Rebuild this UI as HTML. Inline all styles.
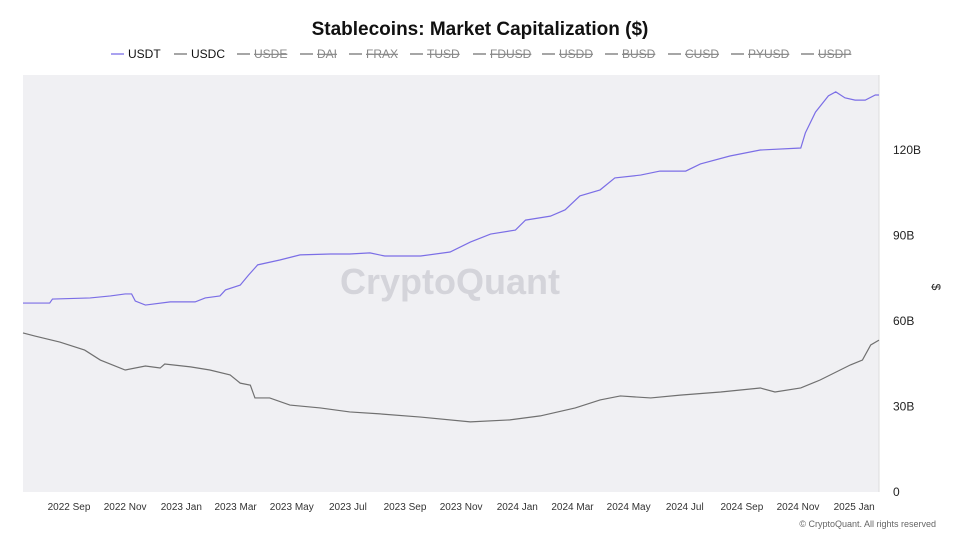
<!DOCTYPE html>
<html><head><meta charset="utf-8"><style>
body{margin:0;background:#fff;font-family:"Liberation Sans",sans-serif;}
svg{display:block}
</style></head><body>
<svg id="chart" width="960" height="540">
<text x="480" y="35" text-anchor="middle" font-size="19" font-weight="bold" fill="#111">Stablecoins: Market Capitalization ($)</text>
<g id="legend"></g>
<rect x="23" y="75" width="856" height="417" fill="#f0f0f3"/>
<line x1="879" y1="75" x2="879" y2="492" stroke="#ddd"/>
<text x="450" y="294" text-anchor="middle" font-size="36" font-weight="bold" fill="#d4d4da">CryptoQuant</text>
<g id="axes"></g>
<g id="series"></g>
<text x="936" y="283" font-size="12" fill="#222" text-anchor="middle" transform="rotate(90 932 283)">$</text>
<text x="936" y="527" text-anchor="end" font-size="9" fill="#666">© CryptoQuant. All rights reserved</text>
</svg>
<script>
const legendNames=["USDT","USDC","USDE","DAI","FRAX","TUSD","FDUSD","USDD","BUSD","CUSD","PYUSD","USDP"];
const yTicks=[0,30,60,90,120];
const yTickLabels=["0","30B","60B","90B","120B"];
const xTickDays=[50,111,172,231,292,353,415,476,537,597,658,719,781,842,903];
const xTickLabels=["2022 Sep","2022 Nov","2023 Jan","2023 Mar","2023 May","2023 Jul","2023 Sep","2023 Nov","2024 Jan","2024 Mar","2024 May","2024 Jul","2024 Sep","2024 Nov","2025 Jan"];
const usdtDays=[0,29,32,73,95,111,118,122,133,160,187,198,214,220,236,245,255,279,301,334,355,377,393,432,464,486,508,535,546,573,589,605,627,643,671,692,720,736,768,801,845,850,861,875,883,893,904,915,926,930];
const usdtVals=[66.3,66.3,67.7,68.1,68.8,69.5,69.5,67.0,65.6,66.7,66.7,68.1,68.8,70.9,72.6,76.1,79.7,81.4,83.2,83.5,83.5,83.9,82.8,82.8,84.2,87.7,90.5,91.9,95.4,96.8,99.0,103.9,106.0,110.2,111.2,112.6,112.6,115.1,117.9,120.0,120.7,126.0,133.3,139.0,140.4,138.3,137.5,137.5,139.3,139.3];
const usdcDays=[0,13,40,67,84,111,133,149,154,182,203,225,236,247,252,268,290,323,355,388,432,486,529,562,600,627,649,682,714,758,801,817,845,866,899,912,921,930];
const usdcVals=[55.8,54.7,52.6,49.8,46.3,42.8,44.2,43.5,44.9,43.9,42.8,41.1,38.2,37.5,33.0,33.0,30.5,29.5,28.1,27.4,26.3,24.6,25.3,26.7,29.5,32.3,33.7,33.0,34.0,35.1,36.5,35.1,36.5,39.3,44.6,46.3,51.6,53.3];
const NS="http://www.w3.org/2000/svg";
const X=d=>23+d*(856/930);
const Y=v=>492-v*(85.5/30);
function mk(tag,attrs,parent){const e=document.createElementNS(NS,tag);for(const k in attrs)e.setAttribute(k,attrs[k]);parent.appendChild(e);return e;}
const axes=document.getElementById('axes');
yTicks.forEach((v,i)=>{const t=mk('text',{x:893,y:Y(v)+4,'font-size':12,fill:'#222'},axes);t.textContent=yTickLabels[i];

});
xTickDays.forEach((d,i)=>{const t=mk('text',{x:X(d),y:510,'font-size':10,fill:'#333','text-anchor':'middle'},axes);t.textContent=xTickLabels[i];

});
const ser=document.getElementById('series');
function line(days,vals,color,name){const p=mk('polyline',{points:days.map((d,i)=>X(d)+','+Y(vals[i])).join(' '),fill:'none',stroke:color,'stroke-width':1.2},ser);

}
line(usdtDays,usdtVals,'#7b6ee6','usdt-line');
line(usdcDays,usdcVals,'#707070','usdc-line');
const lg=document.getElementById('legend');
const legendX=[111,174,237,300,349,410,473,542,605,668,731,801];
legendNames.forEach((n,i)=>{const x=legendX[i];const g=mk('g',{},lg);


mk('line',{x1:x,y1:54,x2:x+13,y2:54,stroke:i==0?'#8d82ea':'#888','stroke-width':1.5},g);
const t=mk('text',{x:x+17,y:58,'font-size':12,fill:i<2?'#111':'#888','text-decoration':i<2?'none':'line-through'},g);t.textContent=n;});
</script>
</body></html>
